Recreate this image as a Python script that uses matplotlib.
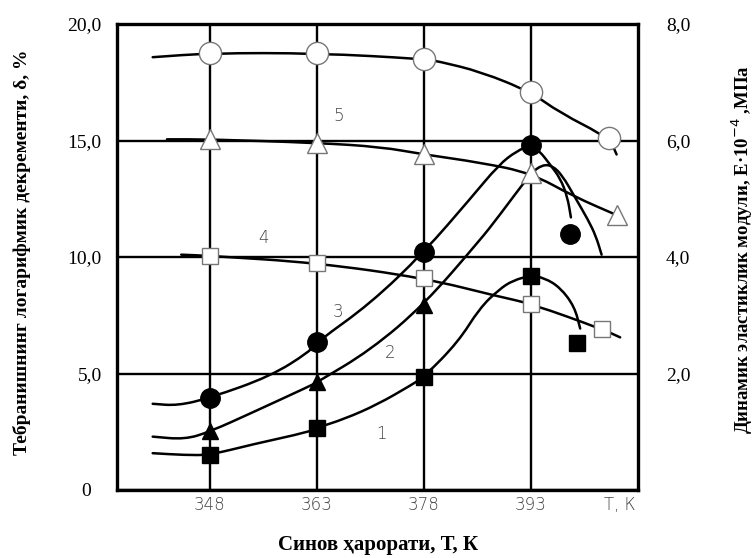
import matplotlib
matplotlib.use('Agg')
import matplotlib.pyplot as plt
from matplotlib.path import Path
from matplotlib.patches import PathPatch

# temperature grid (K)
temp_ticks = [348, 363, 378, 393]
temp_tick_labels = ['348', '363', '378', '393']
delta_ticks = [0, 5, 10, 15, 20]
delta_tick_labels = ['0\u2002', '5,0', '10,0', '15,0', '20,0']
modulus_ticks = [2, 4, 6, 8]
modulus_tick_labels = ['2,0', '4,0', '6,0', '8,0']

# logarithmic decrement, delta % (filled symbols)
# curve 1 (squares)
c1_line_t = [340, 344.5, 348, 354, 362, 363, 366.8, 371.5, 376.2, 378, 382.8,
             385.8, 388.5, 390.5, 393, 394.9, 397.1, 399.1, 399.9]
c1_line_v = [1.58, 1.5, 1.5, 1.96, 2.5, 2.67, 3.04, 3.67, 4.5, 4.85, 6.35,
             7.8, 8.6, 9.0, 9.2, 9.1, 8.69, 7.87, 6.93]
c1_t = [348, 363, 378, 393, 399.4]
c1_v = [1.5, 2.67, 4.85, 9.2, 6.31]

# curve 2 (triangles)
c2_line_t = [340, 344.5, 348, 354, 362, 363, 370.5, 378, 385.8, 388.5, 393,
             394.6, 396, 397.4, 399.1, 401, 402.1, 402.9]
c2_line_v = [2.29, 2.17, 2.5, 3.33, 4.46, 4.62, 6.0, 7.95, 10.7, 11.75, 13.6,
             13.96, 13.92, 13.5, 12.6, 11.6, 10.9, 10.1]
c2_t = [348, 363, 378, 393]
c2_v = [2.55, 4.62, 7.95, 13.6]

# curve 3 (circles)
c3_line_t = [340, 343.5, 348, 356.5, 362, 363, 370.5, 378, 384.5, 388.5, 391,
             393, 394.2, 395.7, 397.1, 398.1, 398.6]
c3_line_v = [3.7, 3.62, 3.95, 4.88, 5.94, 6.35, 8.0, 10.2, 12.5, 13.96, 14.55,
             14.8, 14.55, 13.96, 13.38, 12.6, 11.7]
c3_t = [348, 363, 378, 393, 398.5]
c3_v = [3.95, 6.35, 10.2, 14.8, 11.0]

# dynamic modulus E*10^-4, MPa (open symbols)
# curve 4 (squares)
c4_line_t = [344, 348, 363, 378, 388.5, 393, 403, 405.5]
c4_line_e = [4.04, 4.02, 3.90, 3.64, 3.32, 3.20, 2.76, 2.62]
c4_t = [348, 363, 378, 393, 403]
c4_e = [4.02, 3.90, 3.64, 3.20, 2.76]

# curve 5 (triangles)
c5_line_t = [342, 348, 363, 372, 378, 386, 393, 399, 405]
c5_line_e = [6.02, 6.02, 5.96, 5.89, 5.76, 5.62, 5.44, 5.04, 4.72]
c5_t = [348, 363, 378, 393, 405]
c5_e = [6.02, 5.96, 5.76, 5.44, 4.72]

# open circles
c6_line_t = [340, 348, 363, 378, 380, 386, 393, 397, 404, 405]
c6_line_e = [7.43, 7.50, 7.50, 7.40, 7.36, 7.18, 6.83, 6.48, 6.04, 5.76]
c6_t = [348, 363, 378, 393, 404]
c6_e = [7.50, 7.50, 7.40, 6.83, 6.04]

curve_labels = ['1', '2', '3', '4', '5']
label_t = [372, 373.3, 366, 355.5, 366]
label_v = [2.42, 5.9, 7.66, 10.8, 16.06]

SERIF = ['Liberation Serif', 'DejaVu Serif']
THIN = ['DejaVu Sans']


def smooth_curve(axis, xs, ys, lw=1.8):
    # quadratic bezier through midpoints, read points act as control points
    pts = list(zip(xs, ys))
    verts = [pts[0]]
    codes = [Path.MOVETO]
    mid = lambda a, b: ((a[0] + b[0]) / 2, (a[1] + b[1]) / 2)
    verts.append(mid(pts[0], pts[1]))
    codes.append(Path.LINETO)
    for i in range(1, len(pts) - 1):
        verts += [pts[i], mid(pts[i], pts[i + 1])]
        codes += [Path.CURVE3, Path.CURVE3]
    verts.append(pts[-1])
    codes.append(Path.LINETO)
    axis.add_patch(PathPatch(Path(verts, codes), fill=False, lw=lw,
                             edgecolor='black', zorder=3,
                             capstyle='round', joinstyle='round'))


fig = plt.figure(figsize=(7.54, 5.58), dpi=100)
ax = fig.add_axes([117 / 754, 1 - 490 / 558, 521 / 754, 466 / 558])
ax.set_xlim(335, 408)
ax.set_ylim(0, 20)
ax.set_xticks(temp_ticks)
ax.set_xticklabels(temp_tick_labels, family=THIN, fontsize=12, color='#444444',
                   fontweight='light')
ax.set_yticks(delta_ticks)
ax.set_yticklabels(delta_tick_labels, family=SERIF, fontsize=14)
ax.tick_params(axis='x', length=0, pad=4)
ax.tick_params(axis='y', length=0, pad=11)
ax.grid(True, color='black', lw=1.7)
ax.set_axisbelow(True)
for s in ax.spines.values():
    s.set_linewidth(2.4)

ax2 = ax.twinx()
ax2.set_ylim(0, 8)
ax2.set_yticks(modulus_ticks)
ax2.set_yticklabels(modulus_tick_labels, family=SERIF, fontsize=14)
ax2.tick_params(axis='y', length=0, pad=20)
for s in ax2.spines.values():
    s.set_visible(False)

# filled curves
for lt, lv, mt, mv, mk, ms in [
        (c1_line_t, c1_line_v, c1_t, c1_v, 's', 12),
        (c2_line_t, c2_line_v, c2_t, c2_v, '^', 12),
        (c3_line_t, c3_line_v, c3_t, c3_v, 'o', 14)]:
    smooth_curve(ax, lt, lv)
    ax.plot(mt, mv, ls='none', marker=mk, ms=ms, color='black', zorder=4)

# open curves on the modulus axis
for lt, le, mt, me, mk, ms in [
        (c4_line_t, c4_line_e, c4_t, c4_e, 's', 12),
        (c5_line_t, c5_line_e, c5_t, c5_e, '^', 14),
        (c6_line_t, c6_line_e, c6_t, c6_e, 'o', 16)]:
    smooth_curve(ax2, lt, le)
    ax2.plot(mt, me, ls='none', marker=mk, ms=ms, mfc='white', mec='#777777',
             mew=1.0, zorder=4)

for txt, t, v in zip(curve_labels, label_t, label_v):
    ax.text(t, v, txt, family=THIN, fontsize=12, color='#444444',
            fontweight='light', ha='center', va='center')

ax.text(0.995, -0.012, 'Т, К', transform=ax.transAxes, family=THIN, fontsize=12,
        color='#444444', fontweight='light', ha='right', va='top')

fig.text(378 / 754, 1 - 545 / 558, 'Синов ҳарорати, Т, К', family=SERIF,
         fontsize=15, fontweight='bold', ha='center', va='center')
fig.text(22 / 754, 1 - 252 / 558, 'Тебранишнинг логарифмик декременти, δ, %',
         family=SERIF, fontsize=14, fontweight='bold', rotation=90,
         ha='center', va='center')
fig.text(742 / 754, 1 - 250 / 558, 'Динамик эластиклик модули, E·10$^{-4}$ ,МПа',
         family=SERIF, fontsize=13.5, fontweight='bold', rotation=90,
         ha='center', va='center')

plt.savefig('out.png', dpi=100)
plt.close()
